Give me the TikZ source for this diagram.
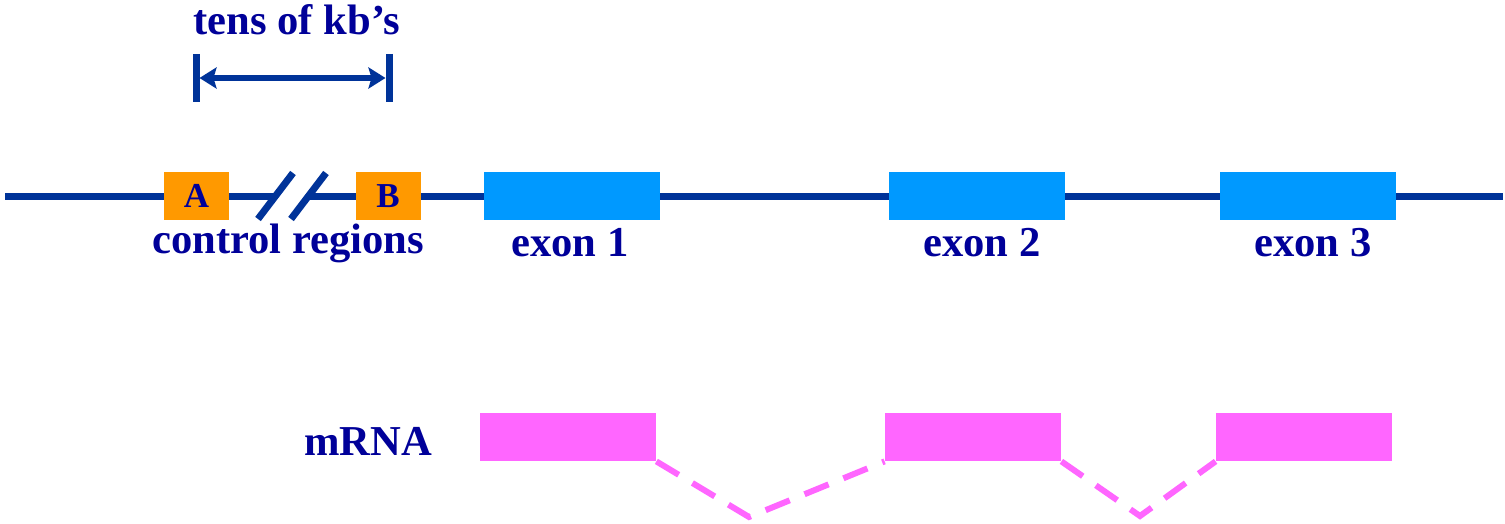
\documentclass[tikz,border=0pt]{standalone}
\usepackage{fontspec}
\setmainfont{Liberation Serif}
\usetikzlibrary{arrows.meta}
\definecolor{strand}{RGB}{0,51,153}
\definecolor{labelblue}{RGB}{0,0,153}
\definecolor{ctrl}{RGB}{255,153,0}
\definecolor{exonblue}{RGB}{0,153,255}
\definecolor{rna}{RGB}{255,102,255}
\tikzset{
  lbl/.style={text=labelblue, font=\fontsize{21.3}{24}\selectfont\bfseries, inner sep=0pt},
  ctrlbox/.style={fill=ctrl, minimum width=32.5pt, minimum height=24pt, inner sep=0pt,
                  text=labelblue, font=\fontsize{17.5}{20}\selectfont\bfseries},
  exonbox/.style={fill=exonblue, minimum width=88pt, minimum height=24pt, inner sep=0pt},
  rnabox/.style={fill=rna, minimum width=88pt, minimum height=24pt, inner sep=0pt},
  strandline/.style={draw=strand, line width=3.5pt},
  kbtip/.tip={Stealth[length=8.5pt, width=10.5pt, inset=1.5pt]},
  intron/.style={draw=rna, line width=3pt, dash pattern=on 13pt off 8pt},
}
\begin{document}
\begin{tikzpicture}[x=0.5pt, y=-0.5pt]
\useasboundingbox (0,0) rectangle (1505,524);

% DNA strand, broken between the two slashes
\draw[strandline] (5,196) -- (276,196);
\draw[strandline] (309,196) -- (1503,196);
\draw[strandline] (258,219) -- (293,173);
\draw[strandline] (291,219) -- (326,173);

% control regions and exons
\node[ctrlbox] (A) at (196.5,196) {A};
\node[ctrlbox] (B) at (388,196) {B};
\node[exonbox] (e1) at (572,196) {};
\node[exonbox] (e2) at (977,196) {};
\node[exonbox] (e3) at (1308,196) {};

\node[lbl] (ctl) at (288,243) {control regions};
\node[lbl] at (570,243) {exon 1};
\node[lbl] at (982,243) {exon 2};
\node[lbl] at (1313,243) {exon 3};

% distance marker
\coordinate (dl) at (196,78);
\coordinate (dr) at (389,78);
\draw[strandline] (196,54) -- (196,102);
\draw[strandline] (389,54) -- (389,102);
\draw[draw=strand, line width=3pt, kbtip-kbtip]
  ([xshift=1.75pt]dl) -- ([xshift=-1.75pt]dr);
\node[lbl] at (297,20) {tens of kb’s};

% spliced mRNA
\node[lbl] at (368,441) {mRNA};
\node[rnabox] (m1) at (568,437) {};
\node[rnabox] (m2) at (973,437) {};
\node[rnabox] (m3) at (1304,437) {};
\coordinate (j1) at (749,517);
\coordinate (j2) at (1140,516);
\draw[intron] (m1.south east) -- (j1) -- (m2.south west);
\draw[intron] (m2.south east) -- (j2) -- (m3.south west);
\end{tikzpicture}
\end{document}
